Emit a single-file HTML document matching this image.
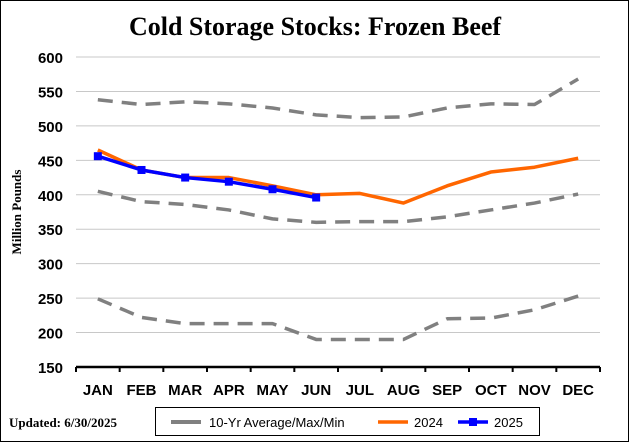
<!DOCTYPE html>
<html><head><meta charset="utf-8"><style>
html,body{margin:0;padding:0;background:#fff}
svg{display:block}
</style></head><body>
<svg id="chart" width="629" height="442" xmlns="http://www.w3.org/2000/svg">
<rect x="0.5" y="0.5" width="628" height="441" fill="#fff" stroke="#000"/>
<text x="315" y="35" text-anchor="middle" font-family="Liberation Serif, serif" font-weight="bold" font-size="26">Cold Storage Stocks: Frozen Beef</text>
<g id="grid"></g>
<g id="series"></g>
<text transform="translate(21,212) rotate(-90)" text-anchor="middle" font-family="Liberation Serif, serif" font-weight="bold" font-size="13">Million Pounds</text>
<text x="9" y="427" font-family="Liberation Serif, serif" font-weight="bold" font-size="13">Updated:  6/30/2025</text>
<g>
<rect x="155.5" y="407.5" width="384" height="28" fill="#fff" stroke="#000"/>
<g>
<line x1="171" y1="422" x2="201" y2="422" stroke="#808080" stroke-width="4"/>
<text x="209" y="427" font-family="Liberation Sans, sans-serif" font-size="13">10-Yr Average/Max/Min</text></g>
<g>
<line x1="378" y1="422" x2="408" y2="422" stroke="#FF6600" stroke-width="3.5"/>
<text x="414" y="427" font-family="Liberation Sans, sans-serif" font-size="13">2024</text></g>
<g>
<line x1="458" y1="422" x2="488" y2="422" stroke="#0000FF" stroke-width="3.5"/>
<rect x="469" y="418" width="8" height="8" fill="#0000FF"/>
<text x="494" y="427" font-family="Liberation Sans, sans-serif" font-size="13">2025</text></g>
</g>
</svg>
<script>
const months=["JAN","FEB","MAR","APR","MAY","JUN","JUL","AUG","SEP","OCT","NOV","DEC"];
const yTicks=[150,200,250,300,350,400,450,500,550,600];
const maxVals=[538,531,535,532,526,516,512,513,526,532,531,568];
const avgVals=[405,390,386,378,365,360,361,361,368,378,388,401];
const minVals=[249,222,213,213,213,190,190,190,220,221,233,253];
const vals2024=[465,436,425,425,413,400,402,388,413,433,440,453];
const vals2025=[456,436,425,419,408,396];
const NS="http://www.w3.org/2000/svg";
const L=76,R=600,T=57,B=367,Y0=150,Y1=600;
const bw=(R-L)/months.length;
function x(i){return L+bw*(i+0.5);}
function y(v){return B-(v-Y0)/(Y1-Y0)*(B-T);}
function mk(tag,attrs,parent){const e=document.createElementNS(NS,tag);for(const k in attrs)e.setAttribute(k,attrs[k]);parent.appendChild(e);return e;}
const grid=document.getElementById('grid');
yTicks.forEach(t=>{
  if(t!==Y0){const g=mk('line',{x1:L,x2:R,y1:y(t),y2:y(t),stroke:'#c8c8c8','stroke-width':1},grid);
  
  }
  const lb=mk('text',{x:63,y:y(t)+6,'text-anchor':'end','font-family':'Liberation Sans, sans-serif','font-weight':'bold','font-size':15},grid);
  lb.textContent=t;
  
  
});
const ax=mk('line',{x1:L,x2:R,y1:B,y2:B,stroke:'#000','stroke-width':2.5},grid);


for(let i=0;i<=months.length;i++){
  const tk=mk('line',{x1:L+bw*i,x2:L+bw*i,y1:B,y2:B+5,stroke:'#000','stroke-width':2},grid);
  
  
}
months.forEach((m,i)=>{
  const t=mk('text',{x:x(i),y:395,'text-anchor':'middle','font-family':'Liberation Sans, sans-serif','font-weight':'bold','font-size':15},grid);
  t.textContent=m;
  
  
});
const s=document.getElementById('series');
function line(vals,color,w,dash,name){
  const p=mk('polyline',{points:vals.map((v,i)=>x(i)+','+y(v)).join(' '),fill:'none',stroke:color,'stroke-width':w,'stroke-linejoin':'round'},s);
  if(dash)p.setAttribute('stroke-dasharray',dash);
  
  
}
line(maxVals,'#808080',3.5,'15,9','line-10yr-max');
line(avgVals,'#808080',3.5,'15,9','line-10yr-avg');
line(minVals,'#808080',3.5,'15,9','line-10yr-min');
line(vals2024,'#FF6600',3.5,null,'line-2024');
line(vals2025,'#0000FF',3.5,null,'line-2025');
vals2025.forEach((v,i)=>{
  const r=mk('rect',{x:x(i)-4,y:y(v)-4,width:8,height:8,fill:'#0000FF'},s);
  
  
});
</script>
</body></html>
